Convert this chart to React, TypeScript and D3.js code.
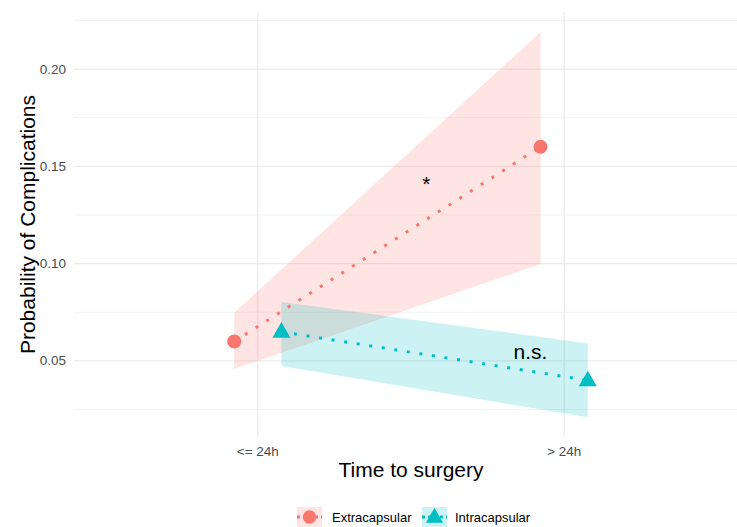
import React from "react";
import * as d3 from "d3";

const categories = ["<= 24h", "> 24h"];
const groups = ["Extracapsular", "Intracapsular"];
const colors = ["#F8766D", "#00BFC4"];
const estimates = [
  [0.060, 0.160],
  [0.065, 0.040],
];
const lower = [
  [0.0458, 0.0998],
  [0.0474, 0.021],
];
const upper = [
  [0.0748, 0.219],
  [0.0803, 0.059],
];
const dodge = [-0.077, 0.077];
const yTicks = [0.05, 0.1, 0.15, 0.2];
const yMinor = [0.025, 0.075, 0.125, 0.175, 0.225];
const annotations = [
  { label: "*", cat: 1.55, y: 0.14 },
  { label: "n.s.", cat: 1.89, y: 0.054 },
];

const W = 737;
const H = 527;
const font = "'Liberation Sans', Arial, sans-serif";

export default function App() {
  const x = d3.scaleLinear().domain([0.4, 2.6]).range([74, 748]);
  const y = d3.scaleLinear().domain([0.0111, 0.2289]).range([436.6, 12.8]);
  const panelTop = 12;
  const panelBottom = 437;

  const area = d3
    .area<[number, number, number]>()
    .x((d) => x(d[0]))
    .y0((d) => y(d[1]))
    .y1((d) => y(d[2]));
  const line = d3
    .line<[number, number]>()
    .x((d) => x(d[0]))
    .y((d) => y(d[1]));

  const tri = (cx: number, cy: number, s: number) => {
    const h = s * 0.866;
    return `M${cx},${cy - h * 0.62} L${cx + s / 2},${cy + h * 0.38} L${cx - s / 2},${cy + h * 0.38} Z`;
  };

  const shape = (g: number, cx: number, cy: number, key: string, scale = 1) =>
    g === 0 ? (
      <circle key={key} cx={cx} cy={cy} r={7 * scale} fill={colors[g]} />
    ) : (
      <path key={key} d={tri(cx, cy, 18 * scale)} fill={colors[g]} />
    );

  const legendItems = [
    { x: 297, tx: 332 },
    { x: 422, tx: 455 },
  ];

  return (
    <svg width={W} height={H} style={{ display: "block", position: "absolute", left: 0, top: 0 }} fontFamily={font}>
      <rect x={0} y={0} width={W} height={H} fill="white" />
      {yMinor.map((t) => (
        <line key={"mi" + t} x1={74} x2={W} y1={y(t)} y2={y(t)} stroke="#F2F2F2" strokeWidth={1} />
      ))}
      {yTicks.map((t) => (
        <line key={"ma" + t} x1={74} x2={W} y1={y(t)} y2={y(t)} stroke="#EBEBEB" strokeWidth={1.3} />
      ))}
      {categories.map((c, i) => (
        <line key={"v" + c} x1={x(i + 1)} x2={x(i + 1)} y1={panelTop} y2={panelBottom} stroke="#EBEBEB" strokeWidth={1.3} />
      ))}
      {groups.map((g, gi) => (
        <path
          key={"rib" + g}
          d={area(categories.map((_, ci) => [ci + 1 + dodge[gi], lower[gi][ci], upper[gi][ci]]))!}
          fill={colors[gi]}
          fillOpacity={0.2}
        />
      ))}
      {groups.map((g, gi) => (
        <path
          key={"ln" + g}
          d={line(categories.map((_, ci) => [ci + 1 + dodge[gi], estimates[gi][ci]]))!}
          fill="none"
          stroke={colors[gi]}
          strokeWidth={3}
          strokeDasharray="3,9.7"
        />
      ))}
      {groups.map((g, gi) =>
        categories.map((_, ci) => shape(gi, x(ci + 1 + dodge[gi]), y(estimates[gi][ci]), `pt${gi}${ci}`))
      )}
      {annotations.map((a) => (
        <text key={a.label} x={x(a.cat)} y={y(a.y)} textAnchor="middle" dominantBaseline="middle" fontSize={21} fill="black">
          {a.label}
        </text>
      ))}
      {yTicks.map((t) => (
        <text key={"yt" + t} x={66} y={y(t)} textAnchor="end" dominantBaseline="central" fontSize={13.5} fill="#4D4D4D">
          {d3.format(".2f")(t)}
        </text>
      ))}
      {categories.map((c, i) => (
        <text key={"xt" + c} x={x(i + 1)} y={451} textAnchor="middle" dominantBaseline="central" fontSize={13.5} fill="#4D4D4D">
          {c}
        </text>
      ))}
      <text x={411} y={469} textAnchor="middle" dominantBaseline="central" fontSize={21} fill="black">
        Time to surgery
      </text>
      <text
        transform={`translate(27,${(12 + 437) / 2}) rotate(-90)`}
        textAnchor="middle"
        dominantBaseline="central"
        fontSize={21}
        fill="black"
      >
        Probability of Complications
      </text>
      {groups.map((g, gi) => {
        const it = legendItems[gi];
        const cy = 517;
        return (
          <g key={"lg" + g}>
            <rect x={it.x} y={cy - 10} width={25} height={20} fill={colors[gi]} fillOpacity={0.2} />
            <line x1={it.x} x2={it.x + 25} y1={cy} y2={cy} stroke={colors[gi]} strokeWidth={3} strokeDasharray="3,3" />
            {shape(gi, it.x + 12.5, cy, "lgs" + gi, 0.95)}
            <text x={it.tx} y={cy} dominantBaseline="central" fontSize={13} fill="black">
              {g}
            </text>
          </g>
        );
      })}
    </svg>
  );
}
